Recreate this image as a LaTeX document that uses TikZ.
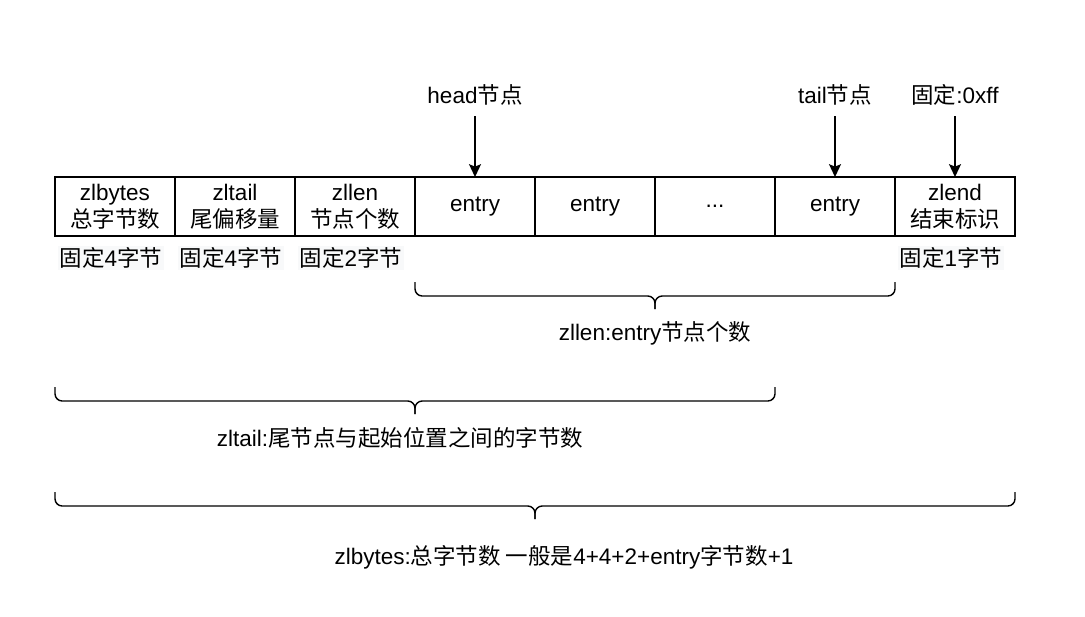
\documentclass[tikz,border=0pt]{standalone}
\usepackage{fontspec}
\setmainfont{Liberation Sans}
\newfontfamily\cjk{Noto Sans CJK SC}
\usetikzlibrary{arrows.meta, positioning}
\definecolor{labelbg}{RGB}{248, 249, 250}

\begin{document}
\begin{tikzpicture}[
    font=\fontsize{16}{19.2}\selectfont,
    cell/.style={draw, line width=1pt, minimum width=3cm, minimum height=1.475cm, align=center, inner sep=0pt, outer sep=0pt},
    fixlabel/.style={fill=labelbg, inner sep=1pt, minimum height=0.6cm},
    toplabel/.style={inner sep=0pt, minimum height=1.05cm},
    arrow/.style={-{Stealth[length=0.32cm, width=0.3cm, inset=0.06cm]}, line width=1pt},
    bracket/.style={line width=1pt, rounded corners=0.18cm},
    note/.style={inner sep=0pt}
]
    \useasboundingbox (0,0) rectangle (27.125,-15.4);

    % Ziplist cells
    \node[cell] (zlbytes) at (2.875,-5.1625) {zlbytes\\{\cjk 总字节数}};
    \node[cell, right=0pt of zlbytes] (zltail) {zltail\\{\cjk 尾偏移量}};
    \node[cell, right=0pt of zltail] (zllen) {zllen\\{\cjk 节点个数}};
    \node[cell, right=0pt of zllen] (entry1) {entry};
    \node[cell, right=0pt of entry1] (entry2) {entry};
    \node[cell, right=0pt of entry2] (dots) {...};
    \node[cell, right=0pt of dots] (entryn) {entry};
    \node[cell, right=0pt of entryn] (zlend) {zlend\\{\cjk 结束标识}};

    % Fixed sizes
    \node[fixlabel, below right=0.25cm and 0.075cm of zlbytes.south west] (size1) {{\cjk 固定}4{\cjk 字节}};
    \node[fixlabel, below right=0.25cm and 0.075cm of zltail.south west] (size2) {{\cjk 固定}4{\cjk 字节}};
    \node[fixlabel, below right=0.25cm and 0.075cm of zllen.south west] (size3) {{\cjk 固定}2{\cjk 字节}};
    \node[fixlabel, below right=0.25cm and 0.075cm of zlend.south west] (size4) {{\cjk 固定}1{\cjk 字节}};

    % Pointers
    \node[toplabel, above=1.525cm of entry1] (head) {head{\cjk 节点}};
    \node[toplabel, above=1.525cm of entryn] (tail) {tail{\cjk 节点}};
    \node[toplabel, above=1.525cm of zlend] (endmark) {{\cjk 固定}:0xff};
    \draw[arrow] (head) -- (entry1);
    \draw[arrow] (tail) -- (entryn);
    \draw[arrow] (endmark) -- (zlend);

    % Braces
    \draw[bracket] (10.375,-7.05) |- (16.375,-7.4) -- (16.375,-7.725);
    \draw[bracket] (22.375,-7.05) |- (16.375,-7.4) -- (16.375,-7.725);
    \node[note] (lenlabel) at (16.375,-8.325) {zllen:entry{\cjk 节点个数}};

    \draw[bracket] (1.375,-9.675) |- (10.375,-10.025) -- (10.375,-10.35);
    \draw[bracket] (19.375,-9.675) |- (10.375,-10.025) -- (10.375,-10.35);
    \node[note] (taillabel) at (10.0,-10.95) {zltail:{\cjk 尾节点与起始位置之间的字节数}};

    \draw[bracket] (1.375,-12.3) |- (13.375,-12.65) -- (13.375,-12.975);
    \draw[bracket] (25.375,-12.3) |- (13.375,-12.65) -- (13.375,-12.975);
    \node[note] (byteslabel) at (14.1,-13.925) {zlbytes:{\cjk 总字节数 一般是}4+4+2+entry{\cjk 字节数}+1};

\end{tikzpicture}
\end{document}
